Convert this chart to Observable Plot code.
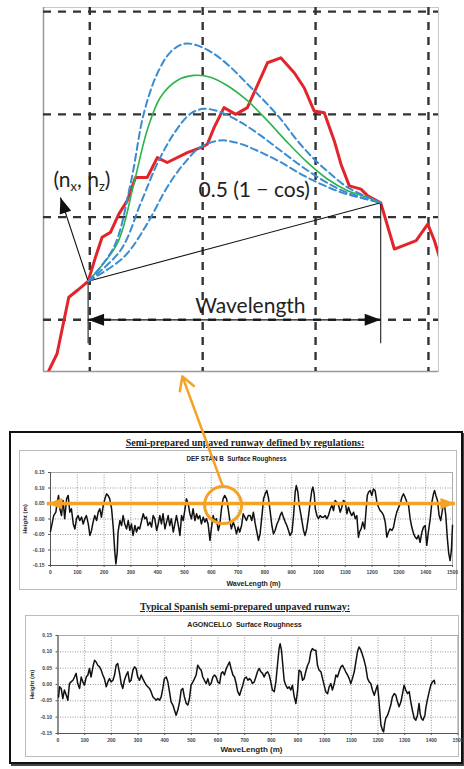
<!DOCTYPE html>
<html><head><meta charset="utf-8">
<script src="https://cdn.jsdelivr.net/npm/d3@7"></script>
<script src="https://cdn.jsdelivr.net/npm/@observablehq/plot@0.6"></script>
<style>
body{margin:0;background:#fff;}
#page{position:relative;width:464px;height:769px;overflow:hidden;background:#fff;font-family:"Liberation Sans",Arial,sans-serif;}
.abs{position:absolute;}
#box{left:9px;top:431px;width:454px;height:333px;border:2px solid #111;box-sizing:border-box;box-shadow:2px 2px 0 #444;}
.ptitle{font-family:"Liberation Serif","DejaVu Serif",serif;font-weight:bold;font-size:10px;line-height:12px;text-decoration:underline;color:#222;text-align:center;width:464px;white-space:nowrap;}
.area{border:1px solid #bbb;box-sizing:border-box;background:#fff;}
#top,#p1,#p2{position:absolute;}
#top svg,#p1 svg,#p2 svg{overflow:visible;}
</style></head><body>
<div id="page">
  <div id="top" style="left:0;top:0"></div>
  <div id="box" class="abs"></div>
  <div class="abs ptitle" style="left:13px;top:437px">Semi-prepared unpaved runway defined by regulations:</div>
  <div class="abs area" style="left:19px;top:450px;width:438px;height:140px"></div>
  <div class="abs ptitle" style="left:13px;top:601px">Typical Spanish semi-prepared unpaved runway:</div>
  <div class="abs area" style="left:25px;top:615px;width:434px;height:142px"></div>
  <div id="p2" style="left:25px;top:615px"></div>
  <div id="p1" style="left:19px;top:450px"></div>
</div>
<script>
// ---------- top diagram data (grid units) ----------
const gridX = [0, 1, 2, 3];
const gridY = [0, 1, 2, 3];
const redProfile = [[-0.364,-0.498],[-0.29,-0.33],[-0.186,0.22],[-0.112,0.285],[-0.015,0.375],[0.05,0.608],[0.109,0.803],[0.183,0.851],[0.257,1.029],[0.331,1.159],[0.405,1.385],[0.509,1.385],[0.598,1.579],[0.686,1.531],[0.864,1.628],[0.982,1.676],[1.041,1.709],[1.101,1.871],[1.189,2.065],[1.293,2.0],[1.396,2.065],[1.574,2.502],[1.692,2.55],[1.811,2.405],[1.899,2.259],[1.988,2.032],[2.077,2.016],[2.166,1.741],[2.225,1.515],[2.299,1.304],[2.402,1.272],[2.462,1.207],[2.577,1.14],[2.698,0.689],[2.891,0.77],[2.994,0.932],[3.053,0.77],[3.107,0.576]];
const bumpHigh = [[-0.015,0.375],[0.213,0.707],[0.361,1.324],[0.478,2.006],[0.597,2.395],[0.715,2.606],[0.833,2.687],[0.951,2.671],[1.099,2.59],[1.246,2.46],[1.394,2.298],[1.542,2.135],[1.689,1.957],[1.837,1.746],[1.984,1.568],[2.132,1.421],[2.28,1.291],[2.427,1.211],[2.577,1.14]];
const bumpGreen = [[-0.015,0.375],[0.242,0.74],[0.39,1.324],[0.508,1.843],[0.626,2.167],[0.774,2.33],[0.921,2.379],[1.069,2.362],[1.217,2.281],[1.394,2.135],[1.571,1.941],[1.748,1.73],[1.925,1.535],[2.102,1.373],[2.28,1.259],[2.457,1.194],[2.577,1.14]];
const bumpMid = [[-0.015,0.375],[0.272,0.675],[0.449,1.129],[0.597,1.518],[0.744,1.811],[0.892,2.006],[1.01,2.054],[1.158,2.022],[1.335,1.924],[1.512,1.795],[1.689,1.648],[1.866,1.502],[2.043,1.373],[2.221,1.265],[2.398,1.194],[2.577,1.14]];
const bumpLow = [[-0.015,0.375],[0.301,0.61],[0.508,0.934],[0.685,1.291],[0.833,1.518],[0.98,1.681],[1.158,1.746],[1.335,1.713],[1.512,1.632],[1.689,1.535],[1.866,1.421],[2.043,1.324],[2.221,1.243],[2.398,1.188],[2.577,1.14]];
const chord = [[-0.015,0.375],[2.577,1.14]];
const normalTip = [-0.26, 1.191];
const wavelengthLevel = 0;
const dropLevel = -0.233;
const centeredLabels = [{x:1.423, y:0.071, text:"Wavelength"}];
const leftLabels = [
  {x:0.963, y:1.191, text:"0.5 (1 − cos)"},
  {x:-0.322, y:1.288, text:"(nx, nz)"}
];

// ---------- roughness profiles ----------
const xTicks = [0,100,200,300,400,500,600,700,800,900,1000,1100,1200,1300,1400,1500];
const yTicks = [-0.15,-0.10,-0.05,0,0.05,0.10,0.15];
const defStanB = [[0,-0.04],[12,0.011],[20,0.022],[25,0.054],[30,0.076],[35,0.033],[41,0.011],[47,0.06],[53,0.001],[60,0.065],[66,0.076],[72,0.022],[78,0.033],[85,-0.016],[91,-0.032],[97,0.001],[103,0.011],[109,-0.005],[116,0.006],[122,-0.016],[128,0.001],[134,0.011],[141,-0.016],[147,-0.053],[153,-0.037],[159,-0.01],[165,0.011],[172,-0.005],[178,0.022],[184,0.033],[190,0.006],[197,0.044],[203,0.065],[209,0.081],[215,0.076],[221,0.065],[228,0.033],[234,-0.026],[240,-0.107],[244,-0.145],[249,-0.107],[252,-0.042],[259,-0.005],[265,-0.021],[271,0.011],[277,-0.016],[284,-0.032],[290,-0.005],[296,-0.037],[302,-0.016],[308,-0.053],[315,-0.021],[321,-0.042],[327,-0.026],[333,-0.032],[340,-0.005],[346,0.017],[352,0.001],[358,0.006],[364,-0.021],[371,-0.01],[377,-0.026],[383,0.011],[389,0.001],[396,-0.037],[402,-0.016],[408,0.011],[414,-0.016],[420,0.017],[427,-0.032],[433,-0.01],[439,0.011],[445,-0.021],[451,0.001],[458,-0.042],[464,-0.016],[470,0.011],[476,-0.016],[483,-0.053],[489,0.011],[495,-0.005],[501,0.027],[507,0.065],[514,0.049],[520,0.017],[526,0.001],[532,0.033],[539,-0.005],[545,0.017],[551,0.001],[557,0.011],[563,-0.016],[570,0.006],[576,-0.01],[582,0.001],[588,-0.016],[595,-0.069],[601,-0.026],[607,0.011],[613,-0.01],[619,0.001],[626,-0.037],[632,-0.016],[638,0.033],[644,0.065],[650,0.076],[657,0.065],[663,0.033],[669,-0.005],[675,-0.032],[682,-0.01],[688,-0.026],[694,-0.048],[700,-0.026],[706,-0.042],[713,-0.021],[719,0.017],[725,0.006],[731,-0.005],[738,0.011],[745,0.011],[751,-0.005],[757,0.022],[764,-0.016],[770,-0.042],[776,-0.069],[782,-0.048],[789,0.011],[795,0.065],[801,0.081],[807,0.092],[813,0.07],[820,0.022],[826,-0.021],[832,-0.048],[838,-0.037],[845,-0.016],[851,-0.005],[857,0.011],[863,0.022],[869,0.006],[876,-0.01],[882,-0.021],[888,-0.037],[894,-0.053],[901,-0.042],[907,0.011],[913,0.087],[917,0.108],[923,0.087],[928,0.044],[935,0.011],[944,-0.037],[950,-0.053],[956,-0.032],[963,0.011],[969,0.054],[975,0.092],[979,0.103],[984,0.081],[988,0.033],[994,0.011],[1000,0.001],[1006,0.011],[1012,0.006],[1019,0.006],[1025,0.011],[1031,0.001],[1037,0.011],[1044,0.033],[1050,0.044],[1056,0.027],[1062,0.06],[1068,0.054],[1075,0.044],[1081,0.022],[1087,0.038],[1093,0.06],[1100,0.054],[1106,0.017],[1112,0.038],[1118,0.022],[1124,0.011],[1131,0.022],[1137,0.001],[1143,0.011],[1149,-0.059],[1153,-0.042],[1159,-0.032],[1165,-0.01],[1172,-0.032],[1177,0.022],[1182,0.076],[1187,0.087],[1193,0.092],[1199,0.076],[1205,0.097],[1211,0.092],[1218,0.054],[1224,0.038],[1230,0.027],[1236,0.022],[1243,0.011],[1249,-0.01],[1255,-0.059],[1261,-0.042],[1267,-0.032],[1274,-0.037],[1280,-0.026],[1286,0.001],[1292,0.022],[1299,0.038],[1305,0.049],[1311,0.07],[1317,0.081],[1323,0.07],[1330,0.054],[1336,0.044],[1342,0.001],[1348,-0.026],[1355,-0.048],[1361,-0.059],[1367,-0.064],[1373,-0.053],[1379,-0.075],[1386,-0.042],[1392,-0.026],[1398,-0.021],[1404,-0.085],[1410,-0.042],[1417,0.001],[1423,0.054],[1429,0.081],[1433,0.092],[1438,0.076],[1444,0.06],[1450,0.011],[1456,-0.005],[1463,0.033],[1469,0.054],[1475,0.011],[1481,-0.064],[1486,-0.112],[1491,-0.134],[1496,-0.1],[1500,-0.02]];
const agoncello = [[2,-0.038],[6,-0.007],[12,-0.012],[18,-0.043],[24,-0.017],[31,-0.033],[37,-0.048],[43,0.003],[49,0.008],[56,0.013],[62,0.023],[68,0.034],[74,0.003],[81,-0.012],[87,0.023],[93,0.008],[99,-0.002],[106,0.023],[112,0.029],[118,0.049],[124,0.023],[131,0.054],[137,0.074],[143,0.069],[149,0.059],[156,0.054],[162,0.044],[168,0.029],[174,0.018],[181,-0.007],[187,0.008],[193,0.018],[199,0.008],[206,0.013],[212,0.029],[218,0.059],[224,0.064],[231,0.034],[237,0.003],[243,-0.012],[249,0.013],[256,0.029],[262,0.039],[268,0.008],[274,0.013],[281,0.044],[287,0.054],[293,0.049],[299,0.023],[306,0.013],[312,0.029],[318,0.018],[324,0.008],[331,-0.002],[337,-0.007],[343,-0.012],[349,-0.022],[356,-0.038],[362,-0.043],[368,-0.048],[374,-0.043],[381,-0.048],[387,-0.038],[393,-0.012],[399,0.018],[406,0.023],[412,0.008],[418,-0.022],[424,-0.053],[431,-0.063],[437,-0.079],[443,-0.094],[449,-0.079],[456,-0.053],[462,-0.017],[468,-0.012],[474,-0.038],[481,-0.058],[487,-0.063],[493,-0.043],[499,-0.002],[506,0.008],[512,0.018],[518,0.029],[524,0.059],[531,0.049],[537,0.044],[543,0.023],[549,0.013],[556,0.003],[562,0.018],[568,-0.002],[574,0.003],[581,0.023],[587,0.029],[593,0.023],[599,0.008],[606,0.003],[612,0.034],[618,0.039],[624,0.029],[631,0.049],[637,0.059],[643,0.069],[649,0.049],[656,0.029],[662,0.023],[668,0.003],[674,-0.022],[681,-0.033],[687,-0.017],[693,-0.002],[699,0.018],[706,0.023],[712,0.013],[718,0.018],[724,0.013],[729,0.003],[736,0.008],[742,0.023],[748,0.039],[754,0.049],[761,0.039],[767,0.034],[773,0.023],[779,0.034],[786,0.039],[792,0.029],[798,0.008],[804,-0.017],[811,-0.022],[817,0.008],[823,0.059],[829,0.11],[833,0.125],[838,0.105],[842,0.069],[848,0.013],[854,-0.002],[861,-0.012],[867,-0.007],[873,-0.017],[879,-0.002],[886,-0.038],[892,-0.058],[898,-0.022],[904,0.044],[911,0.039],[917,0.013],[923,0.018],[929,0.039],[936,0.059],[942,0.069],[948,0.1],[954,0.11],[961,0.105],[967,0.105],[973,0.059],[979,0.044],[986,0.039],[992,0.018],[998,-0.002],[1004,-0.022],[1011,-0.028],[1017,-0.007],[1023,0.003],[1029,-0.017],[1036,0.003],[1042,0.029],[1048,0.023],[1054,0.039],[1061,0.054],[1067,0.059],[1073,0.049],[1079,0.039],[1086,0.029],[1092,0.018],[1098,0.003],[1104,0.018],[1111,0.039],[1117,0.069],[1123,0.1],[1129,0.115],[1136,0.105],[1142,0.09],[1148,0.074],[1154,0.054],[1161,0.018],[1167,0.008],[1173,0.003],[1179,-0.017],[1186,-0.033],[1192,-0.017],[1198,-0.002],[1202,-0.033],[1207,-0.084],[1211,-0.124],[1217,-0.14],[1221,-0.145],[1225,-0.12],[1229,-0.104],[1236,-0.094],[1242,-0.079],[1248,-0.063],[1254,-0.038],[1261,-0.028],[1267,-0.033],[1273,-0.053],[1279,-0.068],[1286,-0.053],[1292,-0.028],[1298,-0.002],[1304,-0.017],[1311,-0.028],[1317,-0.022],[1323,-0.053],[1329,-0.079],[1336,-0.104],[1342,-0.109],[1348,-0.094],[1354,-0.058],[1358,-0.089],[1363,-0.104],[1369,-0.109],[1376,-0.094],[1379,-0.073],[1386,-0.043],[1392,-0.022],[1398,-0.002],[1404,0.008],[1411,0.013],[1413,0.003]];
// highlighted bump and reference level in the regulation profile
const highlight = [644, 0.045];
const refLevel = 0.05;
const refSpan = [-12, 1511];
const linkFrom = [642, 0.108];
const linkTo = [492, 0.46];

// ---------- helpers ----------
const headSymbol = {draw(ctx, size){ const r = Math.sqrt(size/Math.PI); ctx.moveTo(0,0); ctx.lineTo(-2*r,-0.75*r); ctx.lineTo(-2*r,0.75*r); ctx.closePath(); }};
const orange = "#f5a124";
const blue = "#3a8cd0";
const labelFont = "Lato, 'Open Sans', sans-serif";

// ---------- top diagram ----------
const TW = 464, TH = 380, tML = 43, tMR = 26, tMT = 7, tMB = 9;
const xDom = [-0.41, 3.089], yDom = [-0.503, 3.04];
const kx = (TW - tML - tMR) / (xDom[1] - xDom[0]);
const ky = (TH - tMT - tMB) / (yDom[1] - yDom[0]);
const normalAngle = Math.atan2(-(normalTip[1]-chord[0][1])*ky, (normalTip[0]-chord[0][0])*kx) * 180 / Math.PI;
const wlEnds = [{x:chord[0][0], y:chord[0][1]}, {x:chord[1][0], y:chord[1][1]}];

const topPlot = Plot.plot({
  width: TW, height: TH, marginLeft: tML, marginRight: tMR, marginTop: tMT, marginBottom: tMB,
  x: {domain: xDom, axis: null}, y: {domain: yDom, axis: null},
  style: {background: "transparent", overflow: "visible"},
  marks: [
    Plot.frame({stroke: "#c8c8c8"}),
    Plot.ruleX([xDom[0]], {stroke: "#999", strokeWidth: 1.5}),
    Plot.ruleY([yDom[0]], {stroke: "#999", strokeWidth: 1.5}),
    Plot.ruleX(gridX, {stroke: "#333", strokeWidth: 2.4, strokeDasharray: "8,7"}),
    Plot.ruleY(gridY, {stroke: "#333", strokeWidth: 2.4, strokeDasharray: "8,7"}),
    Plot.line(redProfile, {stroke: "#e3242b", strokeWidth: 3, clip: true, strokeLinejoin: "round"}),
    Plot.line(chord, {stroke: "#111", strokeWidth: 1.1}),
    Plot.ruleX(wlEnds, {x: "x", y1: "y", y2: dropLevel, stroke: "#222", strokeWidth: 1.1}),
    Plot.ruleY([wavelengthLevel], {x1: chord[0][0], x2: chord[1][0], stroke: "#111", strokeWidth: 1.2}),
    Plot.dot([{x: chord[0][0], a: 180}, {x: chord[1][0], a: 0}], {x: "x", y: wavelengthLevel, rotate: "a", symbol: headSymbol, r: 8, fill: "#111", stroke: "none"}),
    Plot.link([{x1: chord[0][0], y1: chord[0][1], x2: normalTip[0], y2: normalTip[1]}], {x1: "x1", y1: "y1", x2: "x2", y2: "y2", stroke: "#111", strokeWidth: 1.1}),
    Plot.dot([normalTip], {rotate: normalAngle, symbol: headSymbol, r: 8, fill: "#111", stroke: "none"}),
    Plot.line(bumpLow, {curve: "catmull-rom", stroke: blue, strokeWidth: 2, strokeDasharray: "7,4"}),
    Plot.line(bumpMid, {curve: "catmull-rom", stroke: blue, strokeWidth: 2, strokeDasharray: "7,4"}),
    Plot.line(bumpGreen, {curve: "catmull-rom", stroke: "#2db34c", strokeWidth: 1.6}),
    Plot.line(bumpHigh, {curve: "catmull-rom", stroke: blue, strokeWidth: 2, strokeDasharray: "7,4"}),
    Plot.text(centeredLabels, {x: "x", y: "y", text: "text", textAnchor: "middle", lineAnchor: "bottom", fontSize: 21, fontFamily: labelFont, fill: "#222"}),
    Plot.text(leftLabels, {x: "x", y: "y", text: "text", textAnchor: "start", lineAnchor: "bottom", fontSize: 21, fontFamily: labelFont, fill: "#222"})
  ]
});
document.getElementById("top").appendChild(topPlot);
// subscripts for (n_x, n_z)
topPlot.querySelectorAll("text").forEach(t => {
  if (t.textContent === "(nx, nz)") {
    t.textContent = "";
    const NS = "http://www.w3.org/2000/svg";
    const parts = [["(n",0,null],["x",4,13],[", n",-4,null],["z",4,13],[")",-4,null]];
    parts.forEach(([s, dy, fs]) => {
      const sp = document.createElementNS(NS, "tspan");
      sp.textContent = s;
      if (dy) sp.setAttribute("dy", dy);
      if (fs) sp.setAttribute("font-size", fs);
      t.appendChild(sp);
    });
  }
});

// ---------- roughness panels ----------
function panel(o) {
  return Plot.plot({
    width: o.w, height: o.h, marginLeft: o.ml, marginRight: o.mr, marginTop: o.mt, marginBottom: o.mb,
    x: {domain: [0, 1500]}, y: {domain: [-0.15, 0.15]},
    style: {background: "transparent", overflow: "visible", fontFamily: "'Liberation Sans', Arial, sans-serif"},
    marks: [
      Plot.gridX(xTicks, {stroke: "#999", strokeOpacity: 1, strokeDasharray: "1,1.5"}),
      Plot.gridY(yTicks, {stroke: "#999", strokeOpacity: 1, strokeDasharray: "1,1.5"}),
      Plot.frame({stroke: "#aaa"}),
      Plot.ruleX([0], {stroke: "#555"}),
      Plot.ruleY([-0.15], {stroke: "#555"}),
      Plot.axisX(xTicks, {tickSize: 2, tickPadding: 3, fontSize: 5, fontWeight: "bold", fill: "#444", stroke: "#555", label: null, tickFormat: d => String(d)}),
      Plot.axisY(yTicks, {tickSize: 2, tickPadding: 4, fontSize: 5, fontWeight: "bold", fill: "#444", stroke: "#555", label: null, tickFormat: d => d.toFixed(2)}),
      Plot.line(o.data, {stroke: "#111", strokeWidth: 1.5, strokeLinejoin: "round"}),
      Plot.text([o.title], {text: d => d, frameAnchor: "top", dx: o.titleDx, dy: o.titleDy, lineAnchor: "middle", fontWeight: "bold", fontSize: o.titleSize, fill: "#222"}),
      Plot.text(["WaveLength (m)"], {text: d => d, frameAnchor: "bottom", dx: o.xlabDx, dy: o.xlabDy, lineAnchor: "middle", fontWeight: "bold", fontSize: o.xlabSize, fill: "#222"}),
      Plot.text(["Height (m)"], {text: d => d, frameAnchor: "left", dx: o.ylabDx, rotate: -90, textAnchor: "middle", lineAnchor: "middle", fontWeight: "bold", fontSize: 6, fill: "#222"}),
      ...(o.extra || [])
    ]
  });
}

const p2 = panel({data: agoncello, w: 434, h: 142, ml: 32.5, mr: 1.5, mt: 20, mb: 24,
  title: "AGONCELLO  Surface Roughness", titleDx: -13.5, titleDy: -11, titleSize: 7,
  xlabDx: -6.5, xlabDy: 16, xlabSize: 8, ylabDx: -25.5});
document.getElementById("p2").appendChild(p2);

const p1 = panel({data: defStanB, w: 438, h: 140, ml: 31, mr: 5, mt: 22, mb: 25,
  title: "DEF STAN B  Surface Roughness", titleDx: -15, titleDy: -14, titleSize: 6.3,
  xlabDx: 2, xlabDy: 18, xlabSize: 7, ylabDx: -25,
  extra: [
    Plot.ruleY([refLevel], {x1: refSpan[0], x2: refSpan[1], stroke: orange, strokeWidth: 3.5}),
    Plot.dot([{x: refSpan[0], a: 180}, {x: refSpan[1], a: 0}], {x: "x", y: refLevel, rotate: "a", symbol: headSymbol, r: 7.5, fill: orange, stroke: "none"}),
    Plot.dot([highlight], {r: 18.5, stroke: orange, strokeWidth: 3, fill: "none"}),
    Plot.arrow([{x1: linkFrom[0], y1: linkFrom[1], x2: linkTo[0], y2: linkTo[1]}], {x1: "x1", y1: "y1", x2: "x2", y2: "y2", stroke: orange, strokeWidth: 2.5, headLength: 9})
  ]});
document.getElementById("p1").appendChild(p1);
</script>
</body></html>
